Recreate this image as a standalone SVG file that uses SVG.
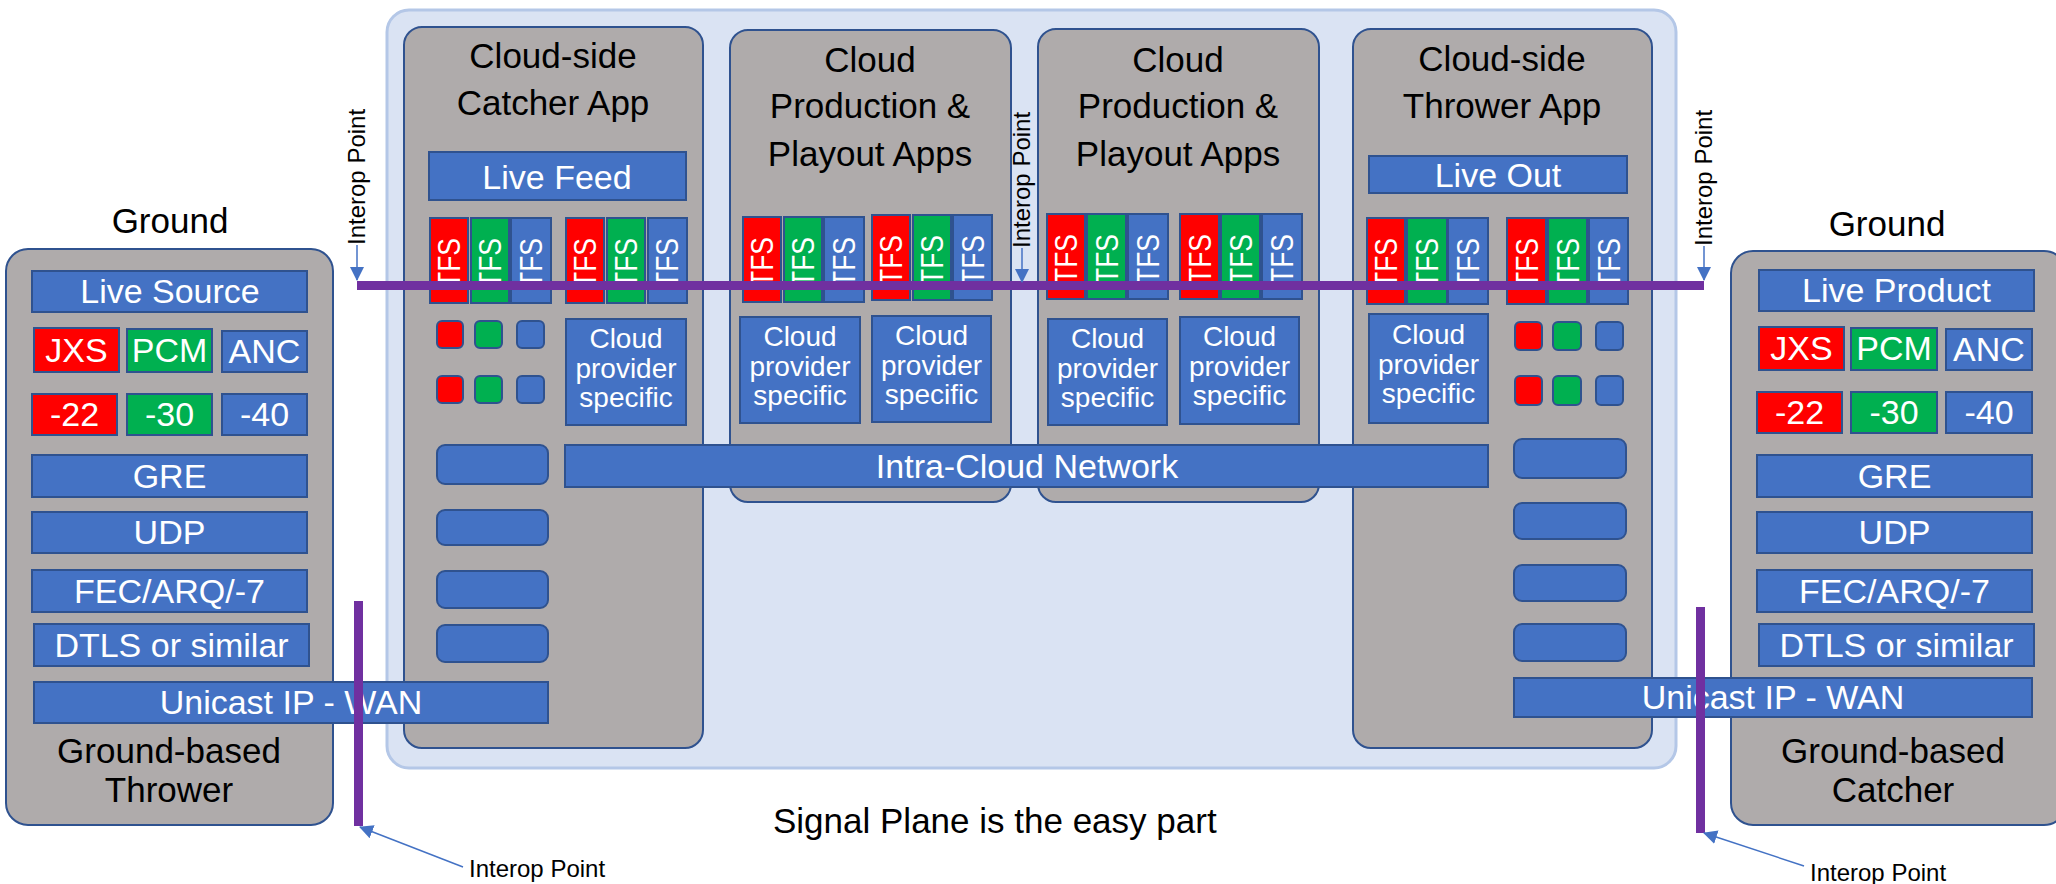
<svg xmlns="http://www.w3.org/2000/svg" width="2056" height="884" viewBox="0 0 2056 884">
<defs>
<style>
.cloud{fill:#DAE3F3;stroke:#B4C7E7;stroke-width:3}
.panel{fill:#AFABAB;stroke:#2F528F;stroke-width:2}
.bx{fill:#4472C4;stroke:#2F528F;stroke-width:2}
.red{fill:#FF0000;stroke:#2F528F;stroke-width:2}
.grn{fill:#00B050;stroke:#2F528F;stroke-width:2}
.purple{fill:#7030A0}
text{font-family:'Liberation Sans',Arial,sans-serif}
.lbl{fill:#fff;font-size:34px;text-anchor:middle}
.ttl{fill:#000;font-size:35px;text-anchor:middle}
.cps{fill:#fff;font-size:28px;text-anchor:middle}
.tfs{fill:#fff;font-size:31px}
.ip{fill:#000;font-size:24px}
.arr{stroke:#4472C4;stroke-width:1.5;fill:none}
</style>
<marker id="ah" markerUnits="userSpaceOnUse" markerWidth="14" markerHeight="14" refX="13" refY="7" orient="auto">
<path d="M0,0 L14,7 L0,14 Z" fill="#4472C4"/>
</marker>
</defs>

<g id="cloud">
<rect class="cloud" x="387" y="10" width="1289" height="758" rx="22"/>
</g>

<g id="catcher-app">
<rect class="panel" x="404" y="27" width="299" height="721" rx="18"/>
<text class="ttl" x="553" y="68">Cloud-side</text>
<text class="ttl" x="553" y="115">Catcher App</text>
<rect class="bx" x="429" y="152" width="257" height="48"/>
<text class="lbl" x="557" y="189">Live Feed</text>
<rect class="red" x="430" y="218" width="38" height="85"/>
<rect class="grn" x="471" y="218" width="38" height="85"/>
<rect class="bx" x="511" y="218" width="40" height="85"/>
<rect class="red" x="566" y="218" width="38" height="85"/>
<rect class="grn" x="607" y="218" width="38" height="85"/>
<rect class="bx" x="648" y="218" width="39" height="85"/>
<text class="tfs" transform="translate(460,288) rotate(-90)" textLength="50" lengthAdjust="spacingAndGlyphs">TFS</text>
<text class="tfs" transform="translate(501,288) rotate(-90)" textLength="50" lengthAdjust="spacingAndGlyphs">TFS</text>
<text class="tfs" transform="translate(542,288) rotate(-90)" textLength="50" lengthAdjust="spacingAndGlyphs">TFS</text>
<text class="tfs" transform="translate(596,288) rotate(-90)" textLength="50" lengthAdjust="spacingAndGlyphs">TFS</text>
<text class="tfs" transform="translate(637,288) rotate(-90)" textLength="50" lengthAdjust="spacingAndGlyphs">TFS</text>
<text class="tfs" transform="translate(678,288) rotate(-90)" textLength="50" lengthAdjust="spacingAndGlyphs">TFS</text>
<rect class="red" x="437" y="321" width="26" height="27" rx="5"/>
<rect class="grn" x="475" y="321" width="27" height="27" rx="5"/>
<rect class="bx" x="517" y="321" width="27" height="27" rx="5"/>
<rect class="red" x="437" y="376" width="26" height="27" rx="5"/>
<rect class="grn" x="475" y="376" width="27" height="27" rx="5"/>
<rect class="bx" x="517" y="376" width="27" height="27" rx="5"/>
<rect class="bx" x="566" y="319" width="120" height="106"/>
<text class="cps" x="626" y="348">Cloud</text>
<text class="cps" x="626" y="378">provider</text>
<text class="cps" x="626" y="407">specific</text>
<rect class="bx" x="437" y="445" width="111" height="39" rx="8"/>
<rect class="bx" x="437" y="510" width="111" height="35" rx="8"/>
<rect class="bx" x="437" y="571" width="111" height="37" rx="8"/>
<rect class="bx" x="437" y="625" width="111" height="37" rx="8"/>
</g>

<g id="production-1">
<rect class="panel" x="730" y="30" width="281" height="472" rx="18"/>
<text class="ttl" x="870" y="72">Cloud</text>
<text class="ttl" x="870" y="118">Production &amp;</text>
<text class="ttl" x="870" y="166">Playout Apps</text>
<rect class="red" x="743" y="217" width="38" height="85"/>
<rect class="grn" x="784" y="217" width="38" height="85"/>
<rect class="bx" x="824" y="217" width="40" height="85"/>
<rect class="red" x="872" y="215" width="38" height="85"/>
<rect class="grn" x="913" y="215" width="38" height="85"/>
<rect class="bx" x="953" y="215" width="39" height="85"/>
<text class="tfs" transform="translate(773,287) rotate(-90)" textLength="50" lengthAdjust="spacingAndGlyphs">TFS</text>
<text class="tfs" transform="translate(814,287) rotate(-90)" textLength="50" lengthAdjust="spacingAndGlyphs">TFS</text>
<text class="tfs" transform="translate(855,287) rotate(-90)" textLength="50" lengthAdjust="spacingAndGlyphs">TFS</text>
<text class="tfs" transform="translate(902,285) rotate(-90)" textLength="50" lengthAdjust="spacingAndGlyphs">TFS</text>
<text class="tfs" transform="translate(943,285) rotate(-90)" textLength="50" lengthAdjust="spacingAndGlyphs">TFS</text>
<text class="tfs" transform="translate(983.5,285) rotate(-90)" textLength="50" lengthAdjust="spacingAndGlyphs">TFS</text>
<rect class="bx" x="740" y="317" width="120" height="106"/>
<text class="cps" x="800" y="346">Cloud</text>
<text class="cps" x="800" y="376">provider</text>
<text class="cps" x="800" y="405">specific</text>
<rect class="bx" x="872" y="316" width="119" height="106"/>
<text class="cps" x="931.5" y="345">Cloud</text>
<text class="cps" x="931.5" y="375">provider</text>
<text class="cps" x="931.5" y="404">specific</text>
</g>

<g id="production-2">
<rect class="panel" x="1038" y="29" width="281" height="473" rx="18"/>
<text class="ttl" x="1178" y="72">Cloud</text>
<text class="ttl" x="1178" y="118">Production &amp;</text>
<text class="ttl" x="1178" y="166">Playout Apps</text>
<rect class="red" x="1047" y="214" width="38" height="85"/>
<rect class="grn" x="1087" y="214" width="39" height="85"/>
<rect class="bx" x="1128" y="214" width="40" height="85"/>
<rect class="red" x="1180" y="214" width="39" height="85"/>
<rect class="grn" x="1221" y="214" width="39" height="85"/>
<rect class="bx" x="1262" y="214" width="40" height="85"/>
<text class="tfs" transform="translate(1077,284) rotate(-90)" textLength="50" lengthAdjust="spacingAndGlyphs">TFS</text>
<text class="tfs" transform="translate(1117.5,284) rotate(-90)" textLength="50" lengthAdjust="spacingAndGlyphs">TFS</text>
<text class="tfs" transform="translate(1159,284) rotate(-90)" textLength="50" lengthAdjust="spacingAndGlyphs">TFS</text>
<text class="tfs" transform="translate(1210.5,284) rotate(-90)" textLength="50" lengthAdjust="spacingAndGlyphs">TFS</text>
<text class="tfs" transform="translate(1251.5,284) rotate(-90)" textLength="50" lengthAdjust="spacingAndGlyphs">TFS</text>
<text class="tfs" transform="translate(1293,284) rotate(-90)" textLength="50" lengthAdjust="spacingAndGlyphs">TFS</text>
<rect class="bx" x="1048" y="319" width="119" height="106"/>
<text class="cps" x="1107.5" y="348">Cloud</text>
<text class="cps" x="1107.5" y="378">provider</text>
<text class="cps" x="1107.5" y="407">specific</text>
<rect class="bx" x="1180" y="317" width="119" height="107"/>
<text class="cps" x="1239.5" y="346">Cloud</text>
<text class="cps" x="1239.5" y="376">provider</text>
<text class="cps" x="1239.5" y="405">specific</text>
</g>

<g id="thrower-app">
<rect class="panel" x="1353" y="29" width="299" height="719" rx="18"/>
<text class="ttl" x="1502" y="71">Cloud-side</text>
<text class="ttl" x="1502" y="118">Thrower App</text>
<rect class="bx" x="1369" y="156" width="258" height="37"/>
<text class="lbl" x="1498" y="187">Live Out</text>
<rect class="red" x="1367" y="218" width="38" height="86"/>
<rect class="grn" x="1407" y="218" width="40" height="86"/>
<rect class="bx" x="1448" y="218" width="40" height="86"/>
<rect class="red" x="1507" y="218" width="39" height="86"/>
<rect class="grn" x="1548" y="218" width="39" height="86"/>
<rect class="bx" x="1589" y="218" width="39" height="86"/>
<text class="tfs" transform="translate(1397,288) rotate(-90)" textLength="50" lengthAdjust="spacingAndGlyphs">TFS</text>
<text class="tfs" transform="translate(1438,288) rotate(-90)" textLength="50" lengthAdjust="spacingAndGlyphs">TFS</text>
<text class="tfs" transform="translate(1479,288) rotate(-90)" textLength="50" lengthAdjust="spacingAndGlyphs">TFS</text>
<text class="tfs" transform="translate(1537.5,288) rotate(-90)" textLength="50" lengthAdjust="spacingAndGlyphs">TFS</text>
<text class="tfs" transform="translate(1578.5,288) rotate(-90)" textLength="50" lengthAdjust="spacingAndGlyphs">TFS</text>
<text class="tfs" transform="translate(1619.5,288) rotate(-90)" textLength="50" lengthAdjust="spacingAndGlyphs">TFS</text>
<rect class="bx" x="1369" y="314" width="119" height="109"/>
<text class="cps" x="1428.5" y="344">Cloud</text>
<text class="cps" x="1428.5" y="374">provider</text>
<text class="cps" x="1428.5" y="403">specific</text>
<rect class="red" x="1515" y="322" width="27" height="28" rx="5"/>
<rect class="grn" x="1553" y="322" width="28" height="28" rx="5"/>
<rect class="bx" x="1596" y="322" width="27" height="28" rx="5"/>
<rect class="red" x="1515" y="376" width="27" height="29" rx="5"/>
<rect class="grn" x="1553" y="376" width="28" height="29" rx="5"/>
<rect class="bx" x="1596" y="376" width="27" height="29" rx="5"/>
<rect class="bx" x="1514" y="439" width="112" height="39" rx="8"/>
<rect class="bx" x="1514" y="503" width="112" height="36" rx="8"/>
<rect class="bx" x="1514" y="565" width="112" height="36" rx="8"/>
<rect class="bx" x="1514" y="624" width="112" height="37" rx="8"/>
</g>

<g id="intra-cloud-network">
<rect class="bx" x="565" y="445" width="923" height="42"/>
<text class="lbl" x="1027" y="478">Intra-Cloud Network</text>
</g>

<g id="ground-thrower">
<text class="ttl" x="170" y="233">Ground</text>
<rect class="panel" x="6" y="249" width="327" height="576" rx="22"/>
<rect class="bx" x="32" y="271" width="275" height="41"/>
<text class="lbl" x="170" y="303">Live Source</text>
<rect class="red" x="34" y="328" width="85" height="44"/>
<text class="lbl" x="76.5" y="362">JXS</text>
<rect class="grn" x="127" y="329" width="85" height="43"/>
<text class="lbl" x="169.5" y="362">PCM</text>
<rect class="bx" x="222" y="331" width="85" height="41"/>
<text class="lbl" x="264.5" y="363">ANC</text>
<rect class="red" x="32" y="394" width="85" height="41"/>
<text class="lbl" x="74.5" y="426">-22</text>
<rect class="grn" x="127" y="394" width="85" height="41"/>
<text class="lbl" x="169.5" y="426">-30</text>
<rect class="bx" x="222" y="394" width="85" height="41"/>
<text class="lbl" x="264.5" y="426">-40</text>
<rect class="bx" x="32" y="455" width="275" height="42"/>
<text class="lbl" x="169.5" y="488">GRE</text>
<rect class="bx" x="32" y="512" width="275" height="41"/>
<text class="lbl" x="169.5" y="544">UDP</text>
<rect class="bx" x="32" y="570" width="275" height="42"/>
<text class="lbl" x="169.5" y="603">FEC/ARQ/-7</text>
<rect class="bx" x="34" y="624" width="275" height="42"/>
<text class="lbl" x="171.5" y="657">DTLS or similar</text>
<rect class="bx" x="34" y="682" width="514" height="41"/>
<text class="lbl" x="291" y="714">Unicast IP - WAN</text>
<text class="ttl" x="169" y="763">Ground-based</text>
<text class="ttl" x="169" y="802">Thrower</text>
</g>

<g id="ground-catcher">
<text class="ttl" x="1887" y="236">Ground</text>
<rect class="panel" x="1731" y="251" width="335" height="574" rx="22"/>
<rect class="bx" x="1759" y="270" width="275" height="41"/>
<text class="lbl" x="1896.5" y="302">Live Product</text>
<rect class="red" x="1759" y="327" width="85" height="43"/>
<text class="lbl" x="1801.5" y="360">JXS</text>
<rect class="grn" x="1851" y="328" width="86" height="42"/>
<text class="lbl" x="1894" y="360">PCM</text>
<rect class="bx" x="1946" y="329" width="86" height="41"/>
<text class="lbl" x="1989" y="361">ANC</text>
<rect class="red" x="1757" y="392" width="85" height="41"/>
<text class="lbl" x="1799.5" y="424">-22</text>
<rect class="grn" x="1851" y="392" width="86" height="41"/>
<text class="lbl" x="1894" y="424">-30</text>
<rect class="bx" x="1946" y="392" width="86" height="41"/>
<text class="lbl" x="1989" y="424">-40</text>
<rect class="bx" x="1757" y="455" width="275" height="42"/>
<text class="lbl" x="1894.5" y="488">GRE</text>
<rect class="bx" x="1757" y="512" width="275" height="41"/>
<text class="lbl" x="1894.5" y="544">UDP</text>
<rect class="bx" x="1757" y="570" width="275" height="42"/>
<text class="lbl" x="1894.5" y="603">FEC/ARQ/-7</text>
<rect class="bx" x="1759" y="624" width="275" height="42"/>
<text class="lbl" x="1896.5" y="657">DTLS or similar</text>
<rect class="bx" x="1514" y="678" width="518" height="39"/>
<text class="lbl" x="1773" y="709">Unicast IP - WAN</text>
<text class="ttl" x="1893" y="763">Ground-based</text>
<text class="ttl" x="1893" y="802">Catcher</text>
</g>

<g id="connectors">
<rect class="purple" x="357" y="281" width="1347" height="9"/>
<rect class="purple" x="354" y="601" width="9" height="225"/>
<rect class="purple" x="1696" y="607" width="9" height="226"/>
<line class="arr" x1="357" y1="245" x2="357" y2="280" marker-end="url(#ah)"/>
<line class="arr" x1="1022" y1="248" x2="1022" y2="282" marker-end="url(#ah)"/>
<line class="arr" x1="1704" y1="246" x2="1704" y2="280" marker-end="url(#ah)"/>
<line class="arr" x1="463" y1="867" x2="360" y2="827" marker-end="url(#ah)"/>
<line class="arr" x1="1804" y1="866" x2="1704" y2="833" marker-end="url(#ah)"/>
</g>

<g id="labels">
<text class="ip" transform="translate(365,245) rotate(-90)">Interop Point</text>
<text class="ip" transform="translate(1030,248) rotate(-90)">Interop Point</text>
<text class="ip" transform="translate(1712,246) rotate(-90)">Interop Point</text>
<text class="ip" x="469" y="877">Interop Point</text>
<text class="ip" x="1810" y="881">Interop Point</text>
<text class="ttl" x="773" y="833" style="text-anchor:start">Signal Plane is the easy part</text>
</g>
</svg>
